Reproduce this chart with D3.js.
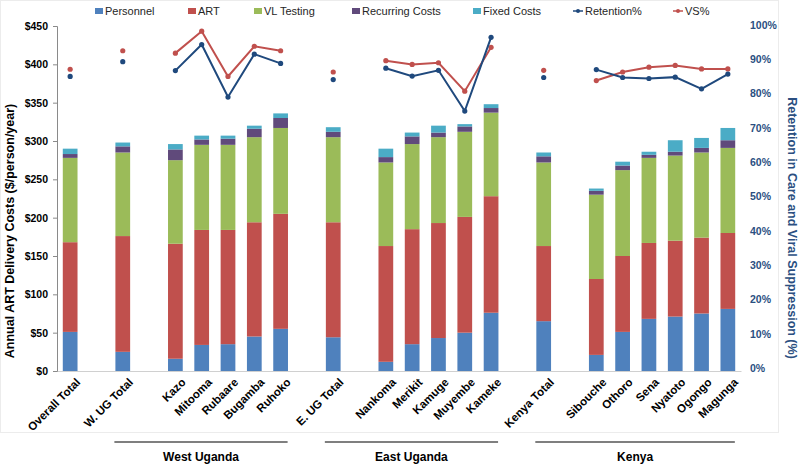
<!DOCTYPE html>
<html>
<head>
<meta charset="utf-8">
<script src="https://cdn.jsdelivr.net/npm/d3@7"></script>
<style>
  body { margin: 0; background: #fff; }
  svg { display: block; font-family: "Liberation Sans", Arial, sans-serif; }
</style>
</head>
<body>
<svg id="chart" width="800" height="464"></svg>
<script>
// ---- data (empty strings are spacer slots) ----
const categories = ["Overall Total","","W. UG Total","","Kazo","Mitooma","Rubaare","Bugamba","Ruhoko","","E. UG Total","","Nankoma","Merikit","Kamuge","Muyembe","Kameke","","Kenya Total","","Sibouche","Othoro","Sena","Nyatoto","Ogongo","Magunga"];
const personnel = [51,null,25,null,16,34,35,45,55,null,44,null,12,35,43,50,76,null,65,null,21,51,68,71,75,81];
const art       = [117,null,151,null,150,150,149,149,150,null,150,null,151,150,150,151,152,null,98,null,99,99,99,99,99,99];
const vlTesting = [110,null,109,null,109,111,111,111,112,null,111,null,109,111,112,111,109,null,109,null,110,112,111,111,111,111];
const recurring = [5,null,8,null,14,7,8,11,13,null,7,null,7,10,6,7,6,null,8,null,5,6,4,5,6,10];
const fixedCosts= [7,null,5,null,7,5,4,4,6,null,6,null,11,5,9,3,5,null,5,null,3,5,4,15,13,16];
const retention = [85,null,89.3,null,86.7,94.3,79,91.5,88.8,null,84.1,null,87.4,85.1,86.8,74.9,96.4,null,84.7,null,87,84.7,84.4,84.8,81.4,85.7];
const vsPct     = [87.1,null,92.5,null,91.8,98.2,85,93.8,92.5,null,86.3,null,89.6,88.5,89,80.7,93.5,null,86.8,null,83.8,86.3,87.7,88.2,87.2,87.2];
const costTicks = [0,50,100,150,200,250,300,350,400,450];
const pctTicks  = [0,10,20,30,40,50,60,70,80,90,100];
const groups     = ["West Uganda","East Uganda","Kenya"];
const groupFirst = ["Kazo","Nankoma","Sibouche"];
const groupLast  = ["Ruhoko","Kameke","Magunga"];
const seriesNames = ["Personnel","ART","VL Testing","Recurring Costs","Fixed Costs"];
const seriesColors = ["#4F81BD","#C0504D","#9BBB59","#604A7B","#4BACC6"];
const retColor = "#1F497D", vsColor = "#C0504D";

(function () {
// ---- layout ----
const svg = d3.select("#chart");
const mLeft = 57, mRight = 741, mTop = 26, mBottom = 371;

svg.append("rect").attr("x",0.5).attr("y",0.5).attr("width",778).attr("height",432)
  .attr("fill","none").attr("stroke","#ececec");

const x = d3.scaleBand().domain(d3.range(categories.length)).range([mLeft, mRight]).paddingInner(0.44).paddingOuter(0.22);
const yL = d3.scaleLinear().domain([0,450]).range([mBottom, mTop]);
const yR = d3.scaleLinear().domain([0,100]).range([368, 25]);
const cx = i => x(i) + x.bandwidth()/2;

// ---- stacked bars ----
const seriesArrays = [personnel, art, vlTesting, recurring, fixedCosts];
const rows = categories.map((c,i) => {
  const r = {i: i};
  seriesNames.forEach((k,j) => r[k] = seriesArrays[j][i] == null ? 0 : seriesArrays[j][i]);
  return r;
}).filter(r => personnel[r.i] != null);
const stacked = d3.stack().keys(seriesNames)(rows);

svg.append("g").selectAll("g").data(stacked).join("g")
  .attr("fill", (d,j) => seriesColors[j])
  .selectAll("rect").data(d => d).join("rect")
  .attr("x", d => x(d.data.i))
  .attr("width", x.bandwidth())
  .attr("y", d => yL(d[1]))
  .attr("height", d => yL(d[0]) - yL(d[1]));

// ---- x axis ----
const xAxis = svg.append("g").attr("transform", `translate(0,${mBottom})`)
  .call(d3.axisBottom(x).tickSize(0).tickFormat(i => categories[i]));
xAxis.select(".domain").attr("stroke","#d0d0d0");
xAxis.selectAll("text")
  .attr("font-size","11.5px").attr("font-weight","bold").attr("fill","#000")
  .attr("text-anchor","end")
  .attr("transform","translate(6,7) rotate(-45)")
  .attr("dy","0.35em");

// ---- left axis ----
const la = svg.append("g").attr("transform", `translate(${mLeft},0)`)
  .call(d3.axisLeft(yL).tickValues(costTicks).tickFormat(d => "$" + d).tickSize(4).tickPadding(5));
la.select(".domain").attr("stroke","#8a8a8a");
la.selectAll(".tick line").attr("stroke","#8a8a8a");
la.selectAll("text").attr("font-size","10.5px").attr("font-weight","bold").attr("fill","#000");

// ---- right axis ----
const ra = svg.append("g").attr("transform", `translate(${mRight},0)`)
  .call(d3.axisRight(yR).tickValues(pctTicks).tickFormat(d => d + "%").tickSize(0).tickPadding(9));
ra.select(".domain").remove();
ra.selectAll("text").attr("font-size","10.5px").attr("font-weight","bold").attr("fill","#2B4F81");

// ---- axis titles ----
svg.append("text").attr("transform","translate(14,231) rotate(-90)")
  .attr("text-anchor","middle").attr("font-size","12.5px").attr("font-weight","bold")
  .attr("fill","#000").text("Annual ART Delivery Costs ($/person/year)");
svg.append("text").attr("transform","translate(788,228) rotate(90)")
  .attr("text-anchor","middle").attr("font-size","12.5px").attr("font-weight","bold")
  .attr("fill","#2B4F81").text("Retention in Care and Viral Suppression (%)");

// ---- lines ----
function drawLine(vals, color) {
  const pts = vals.map((v,i) => ({i, v}));
  const line = d3.line().defined(d => d.v != null).x(d => cx(d.i)).y(d => yR(d.v));
  svg.append("path").datum(pts).attr("d", line).attr("fill","none")
    .attr("stroke", color).attr("stroke-width", 2);
  svg.append("g").selectAll("circle").data(pts.filter(d => d.v != null)).join("circle")
    .attr("cx", d => cx(d.i)).attr("cy", d => yR(d.v)).attr("r", 2.6).attr("fill", color);
}
drawLine(vsPct, vsColor);
drawLine(retention, retColor);

// ---- group brackets ----
groups.forEach((g, k) => {
  const a = cx(categories.indexOf(groupFirst[k])) - 61;
  const b = cx(categories.indexOf(groupLast[k])) + 7;
  svg.append("line").attr("x1", a).attr("x2", b).attr("y1", 442).attr("y2", 442)
    .attr("stroke","#000").attr("stroke-width",1.2);
  svg.append("text").attr("x", (a+b)/2).attr("y", 461).attr("text-anchor","middle")
    .attr("font-size","12px").attr("font-weight","bold").attr("fill","#000").text(g);
});

// ---- legend ----
const legendX = [95,188,254,352,473];
const leg = svg.append("g").attr("font-size","11px").attr("fill","#262626");
seriesNames.forEach((n,j) => {
  leg.append("rect").attr("x", legendX[j]).attr("y", 8).attr("width", 8).attr("height", 6).attr("fill", seriesColors[j]);
  leg.append("text").attr("x", legendX[j] + 10).attr("y", 15).text(n);
});
const lineLeg = [["Retention%", retColor, 573], ["VS%", vsColor, 673]];
lineLeg.forEach(([n, c, lx]) => {
  leg.append("line").attr("x1", lx).attr("x2", lx + 10).attr("y1", 11).attr("y2", 11).attr("stroke", c).attr("stroke-width", 1.5);
  leg.append("circle").attr("cx", lx + 5).attr("cy", 11).attr("r", 2).attr("fill", c);
  leg.append("text").attr("x", lx + 12).attr("y", 15).text(n);
});
})();
</script>
</body>
</html>
